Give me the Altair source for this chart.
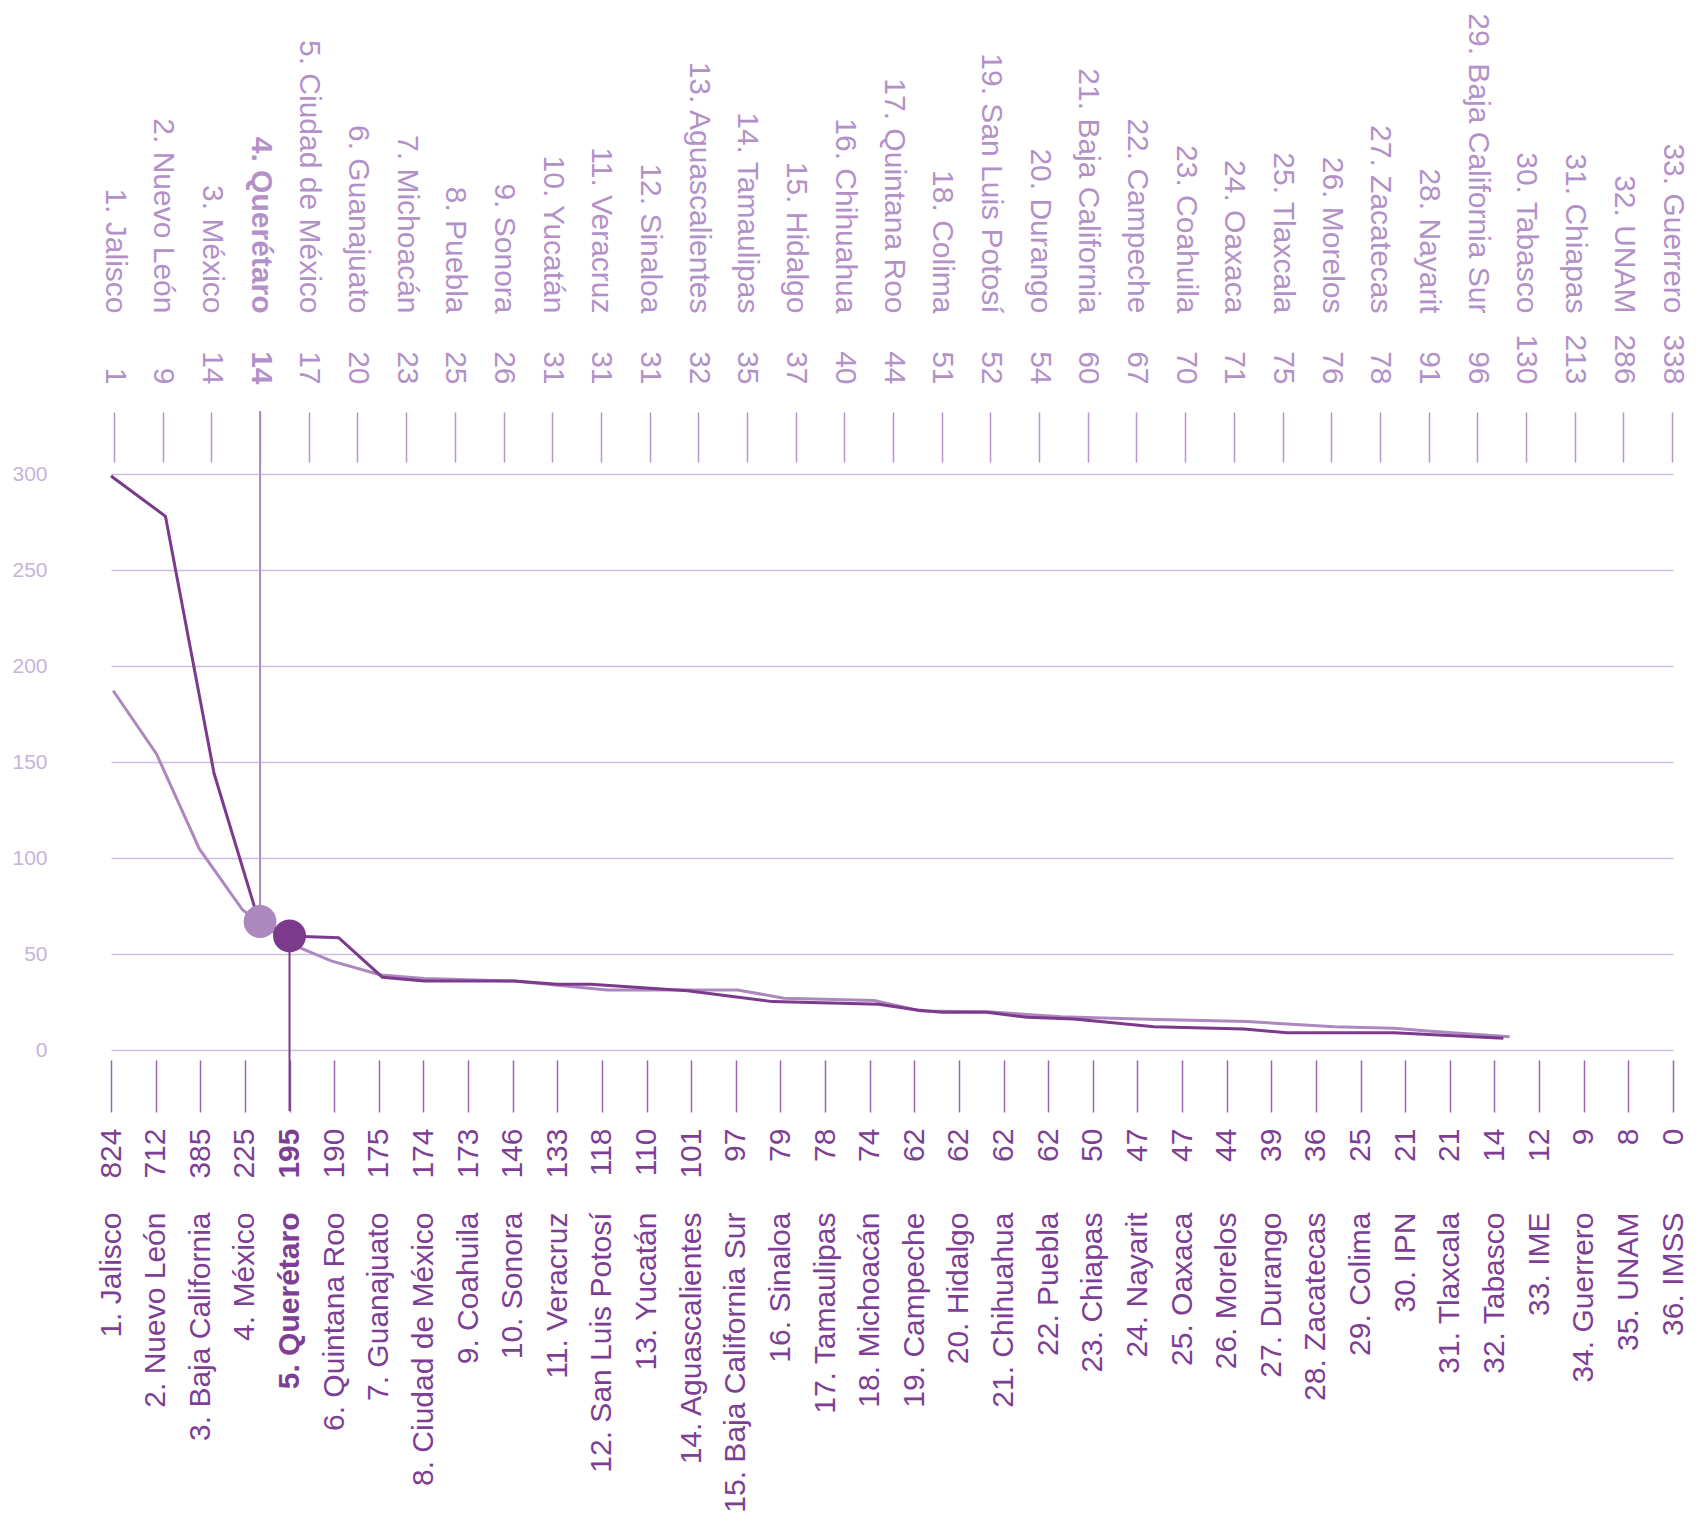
import json
import altair as alt
import pandas as pd

# ---------------- data ----------------
TOP_NAMES = ["1. Jalisco", "2. Nuevo León", "3. México", "4. Querétaro", "5. Ciudad de México",
             "6. Guanajuato", "7. Michoacán", "8. Puebla", "9. Sonora", "10. Yucatán",
             "11. Veracruz", "12. Sinaloa", "13. Aguascalientes", "14. Tamaulipas", "15. Hidalgo",
             "16. Chihuahua", "17. Quintana Roo", "18. Colima", "19. San Luis Potosí", "20. Durango",
             "21. Baja California", "22. Campeche", "23. Coahuila", "24. Oaxaca", "25. Tlaxcala",
             "26. Morelos", "27. Zacatecas", "28. Nayarit", "29. Baja California Sur", "30. Tabasco",
             "31. Chiapas", "32. UNAM", "33. Guerrero"]
TOP_VALUES = [1, 9, 14, 14, 17, 20, 23, 25, 26, 31, 31, 31, 32, 35, 37, 40, 44, 51, 52, 54,
              60, 67, 70, 71, 75, 76, 78, 91, 96, 130, 213, 286, 338]

BOTTOM_NAMES = ["1. Jalisco", "2. Nuevo León", "3. Baja California", "4. México", "5. Querétaro",
                "6. Quintana Roo", "7. Guanajuato", "8. Ciudad de México", "9. Coahuila", "10. Sonora",
                "11. Veracruz", "12. San Luis Potosí", "13. Yucatán", "14. Aguascalientes",
                "15. Baja California Sur", "16. Sinaloa", "17. Tamaulipas", "18. Michoacán",
                "19. Campeche", "20. Hidalgo", "21. Chihuahua", "22. Puebla", "23. Chiapas",
                "24. Nayarit", "25. Oaxaca", "26. Morelos", "27. Durango", "28. Zacatecas",
                "29. Colima", "30. IPN", "31. Tlaxcala", "32. Tabasco", "33. IME", "34. Guerrero",
                "35. UNAM", "36. IMSS"]
BOTTOM_VALUES = [824, 712, 385, 225, 195, 190, 175, 174, 173, 146, 133, 118, 110, 101, 97, 79,
                 78, 74, 62, 62, 62, 62, 50, 47, 47, 44, 39, 36, 25, 21, 21, 14, 12, 9, 8, 0]

# line vertices (position in bottom-rank units, value)
LIGHT_POS = [1.05, 2.02, 2.98, 3.95, 5.0, 5.93, 7.05, 8.02, 10.03, 12.12, 15.04, 16.08, 18.1,
             19.15, 20.64, 22.28, 24.22, 26.46, 28.41, 29.75, 30.5, 32.34]
LIGHT_VAL = [187.1, 154.2, 104.7, 72.9, 55.5, 46.4, 39.1, 37.3, 35.9, 31.3, 31.3, 27.0, 25.8,
             20.3, 19.9, 17.3, 16.0, 14.8, 12.1, 11.3, 9.9, 6.9]
DARK_POS = [1.0, 2.22, 3.31, 4.3, 5.0, 6.1, 7.08, 8.02, 10.03, 11.0, 11.75, 13.92, 15.82, 18.2,
            19.06, 19.62, 20.63, 21.53, 22.58, 24.37, 26.39, 27.35, 29.75, 32.2]
DARK_VAL = [299, 278, 144, 68, 59.4, 58.5, 37.9, 35.9, 35.9, 34.2, 34.2, 30.9, 25.2, 23.8,
            20.8, 19.6, 19.6, 17.0, 16.1, 12.1, 10.9, 9.0, 9.0, 6.1]

HIGHLIGHT_TOP_RANK = 4
HIGHLIGHT_TOP_VAL = 66.9
HIGHLIGHT_BOTTOM_RANK = 5
HIGHLIGHT_BOTTOM_VAL = 59.4

Y_TICKS = [0, 50, 100, 150, 200, 250, 300]

# ---------------- styles ----------------
LIGHT = "#ac88be"
DARK = "#7b3a8c"
TOP_TEXT = "#b391c8"
BOTTOM_TEXT = "#7e3e95"
TOP_TICK = "#b893cc"
BOTTOM_TICK = "#9a64b1"
GRID = "#cfbde0"
YLAB = "#c6b3da"
FONT = "Liberation Sans"
LABEL_SIZE = 30

W, H = 1562, 576

n_top = len(TOP_NAMES)
n_bot = len(BOTTOM_NAMES)
bottom_scale = alt.Scale(domain=[1, n_bot], range=[0, W], nice=False, zero=False)
top_scale = alt.Scale(domain=[1, n_top], range=[3, W - 1], nice=False, zero=False)
y_scale = alt.Scale(domain=[0, 300], nice=False, zero=True)

top_df = pd.DataFrame({"rank": list(range(1, n_top + 1))})
bot_df = pd.DataFrame({"rank": list(range(1, n_bot + 1))})


def lookup_expr(arr):
    return json.dumps([str(a) for a in arr], ensure_ascii=False) + "[datum.value - 1]"


def axis_layer(df, scale, orient, labels, color, bold_rank, offset, padding,
               angle, ticks, tick_size=0, tick_color=None):
    kw = dict(
        orient=orient, values=list(df["rank"]), labelExpr=lookup_expr(labels),
        offset=offset, labelPadding=padding, labelAngle=angle, labelAlign="right",
        labelBaseline="middle", labelFont=FONT, labelFontSize=LABEL_SIZE,
        labelColor=color, labelOverlap=False, labelBound=False, labelFlush=False,
        labelLimit=2000,
        labelFontWeight={"condition": {"test": f"datum.value == {bold_rank}", "value": "bold"},
                         "value": "normal"},
        domain=False, grid=False, title=None, ticks=ticks,
    )
    if ticks:
        kw.update(tickSize=tick_size, tickColor=tick_color, tickWidth=1.5)
    return alt.Chart(df).mark_point(opacity=0).encode(
        x=alt.X("rank:Q", scale=scale, axis=alt.Axis(**kw)),
        y=alt.value(0),
    )


bottom_vals_axis = axis_layer(bot_df, bottom_scale, "bottom", BOTTOM_VALUES, BOTTOM_TEXT,
                              HIGHLIGHT_BOTTOM_RANK, 10, 16, 270, True, 52, BOTTOM_TICK)
bottom_names_axis = axis_layer(bot_df, bottom_scale, "bottom", BOTTOM_NAMES, BOTTOM_TEXT,
                               HIGHLIGHT_BOTTOM_RANK, 10, 152, 270, False)
top_vals_axis = axis_layer(top_df, top_scale, "top", TOP_VALUES, TOP_TEXT,
                           HIGHLIGHT_TOP_RANK, 12, 28, 90, True, 50, TOP_TICK)
top_names_axis = axis_layer(top_df, top_scale, "top", TOP_NAMES, TOP_TEXT,
                            HIGHLIGHT_TOP_RANK, 12, 149, 90, False)

light_df = pd.DataFrame({"pos": LIGHT_POS, "v": LIGHT_VAL})
dark_df = pd.DataFrame({"pos": DARK_POS, "v": DARK_VAL})

light_line = alt.Chart(light_df).mark_line(color=LIGHT, strokeWidth=3, clip=False).encode(
    x=alt.X("pos:Q", scale=bottom_scale, axis=None),
    y=alt.Y("v:Q", scale=y_scale, axis=alt.Axis(
        values=Y_TICKS, grid=True, gridColor=GRID, gridWidth=1.5, ticks=False, domain=False,
        labelPadding=64, labelFont=FONT, labelFontSize=21, labelColor=YLAB, title=None,
        labelAlign="right", labelBaseline="middle")),
)
dark_line = alt.Chart(dark_df).mark_line(color=DARK, strokeWidth=3, clip=False).encode(
    x=alt.X("pos:Q", scale=bottom_scale, axis=None),
    y=alt.Y("v:Q", scale=y_scale, axis=None),
)

top_hl = pd.DataFrame({"rank": [HIGHLIGHT_TOP_RANK], "v": [HIGHLIGHT_TOP_VAL]})
bot_hl = pd.DataFrame({"rank": [HIGHLIGHT_BOTTOM_RANK], "v": [HIGHLIGHT_BOTTOM_VAL]})

light_rule = alt.Chart(top_hl).mark_rule(color=LIGHT, strokeWidth=2, clip=False).encode(
    x=alt.X("rank:Q", scale=top_scale, axis=None),
    y=alt.Y("v:Q", scale=y_scale, axis=None),
    y2=alt.value(-63),
)
dark_rule = alt.Chart(bot_hl).mark_rule(color=DARK, strokeWidth=2, clip=False).encode(
    x=alt.X("rank:Q", scale=bottom_scale, axis=None),
    y=alt.Y("v:Q", scale=y_scale, axis=None),
    y2=alt.value(H + 61),
)
light_dot = alt.Chart(top_hl).mark_circle(color=LIGHT, opacity=1, size=1080, clip=False).encode(
    x=alt.X("rank:Q", scale=top_scale, axis=None),
    y=alt.Y("v:Q", scale=y_scale, axis=None),
)
dark_dot = alt.Chart(bot_hl).mark_circle(color=DARK, opacity=1, size=1080, clip=False).encode(
    x=alt.X("rank:Q", scale=bottom_scale, axis=None),
    y=alt.Y("v:Q", scale=y_scale, axis=None),
)

chart = alt.layer(
    light_line, dark_line, light_rule, dark_rule, light_dot, dark_dot,
    bottom_vals_axis, bottom_names_axis, top_vals_axis, top_names_axis,
).resolve_scale(x="independent").resolve_axis(x="independent", y="independent").properties(
    width=W, height=H,
    padding={"left": 103, "top": 466, "right": 17, "bottom": 463},
    autosize=alt.AutoSizeParams(type="none"),
    background="white",
).configure_view(strokeWidth=0)

chart.save("out.html", embed_options={"renderer": "svg", "actions": False})
